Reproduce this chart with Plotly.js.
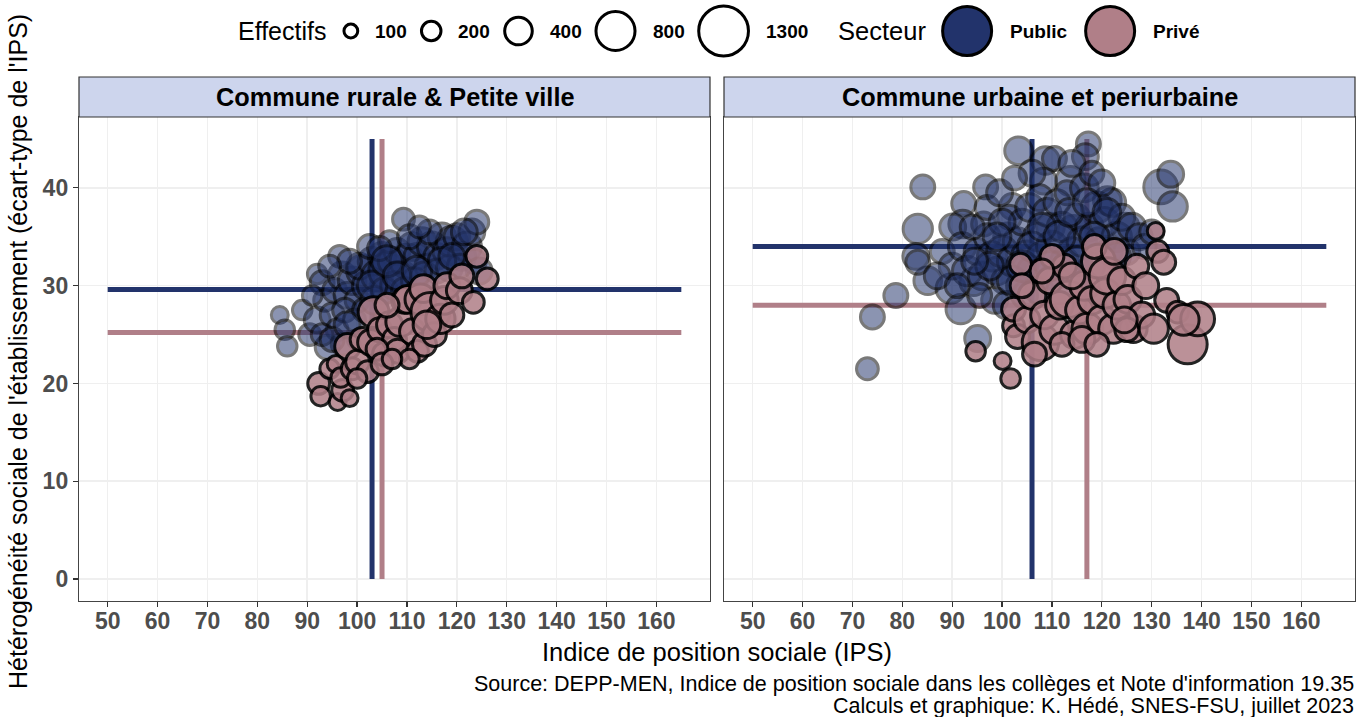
<!DOCTYPE html>
<html><head><meta charset="utf-8">
<script src="https://cdn.plot.ly/plotly-3.0.1.min.js"></script>
<style>html,body{margin:0;padding:0;background:#fff}</style>
</head><body><div id="chart" style="width:1359px;height:717px"></div>
<script>
// ---------------- DATA ----------------
const panels = ['Commune rurale & Petite ville', 'Commune urbaine et periurbaine'];
const xTicks = [50,60,70,80,90,100,110,120,130,140,150,160];
const yTicks = [0,10,20,30,40];
const sizeBreaks = [100,200,400,800,1300];
const sectorLabels = ['Public','Privé'];

// [IPS, écart-type IPS, effectif]
const leftPublic = [
[84.5,27.0,150],[85.5,25.5,200],[86,23.8,200],[89,27.5,200],[90.5,25.0,250],[92,31.2,200],[93,30.3,300],[92,26.5,350],[94,23.7,300],[93.5,28.5,250],
[95,27.0,300],[96,25.5,250],[95.5,29.5,300],[97,31.0,400],[98,29.0,350],[99,30.5,400],[100,28.5,300],[101,31.5,500],[102,30.0,450],[100.5,32.0,350],
[103,32.5,400],[104,31.0,500],[105,33.0,400],[106,31.5,700],[107,32.5,400],[108,33.5,350],[109,31.0,450],[110,32.5,600],[111,34.0,400],[112,33.0,350],
[113,34.5,400],[114,32.0,300],[115,34.0,450],[116,33.0,350],[117,35.0,400],[118,33.5,400],[119,34.5,500],[120,35.0,350],[121,33.0,400],[122,34.0,450],
[123,35.5,350],[124,36.5,300],[109.3,36.8,250],[123.5,32.5,300],[124.5,31.5,350],[96.5,33.0,250],[98.5,32.5,300],[97.5,27.5,300],[99.5,26.5,250],[101.5,27.5,300],
[103.5,28.5,400],[105.5,29.5,350],[107.5,30.0,400],[109.5,29.5,350],[111.5,30.5,350],[113.5,31.0,400],[116,31.5,300],[118.5,31.8,350],[120.5,32.0,300],[91,29.0,200],
[94.5,32.0,250],[102.5,34.0,300],[106.5,34.5,250],[110.5,35.0,300],[114.5,35.5,300],[104.5,33.8,300],[100,24.5,200],[97,24.0,250],[112.5,36.0,250],
[93,25.0,250],[95,24.5,300],[98,26.0,350],[103,30.0,450],[106,32.5,500],[108,31.0,400],[112,31.5,450],[117,32.5,400],[119,33.0,350],[121.5,35.5,350]
];
const leftPrivate = [
[92.3,20.0,250],[92.7,18.7,200],[94.5,21.5,200],[95.7,22.0,150],[96.1,18.1,150],[97.1,19.3,250],[96.7,20.6,200],[98.1,23.8,350],[99,21.5,250],[100.1,22.2,300],
[101,24.5,300],[102.1,21.2,250],[102.7,24.2,350],[103.3,27.3,500],[104.5,25.5,300],[105.5,23.0,300],[106.5,26.0,350],[107.5,24.5,300],[108.1,23.3,300],[108.7,26.3,450],
[109.5,28.5,350],[110.1,28.6,400],[111.1,25.3,350],[112.1,23.3,250],[112.7,28.6,500],[113.3,29.7,400],[113.5,24.0,300],[114.7,27.3,800],[115.5,25.0,300],[116.7,26.6,450],
[117.5,28.5,400],[118,30.0,350],[119,27.0,300],[120.5,29.5,350],[121,31.0,300],[123.3,28.3,250],[126.1,30.7,250],[124,33.0,250],[106,28.0,300],[104,23.5,250],
[110.5,22.5,200],[114,26.0,400],[100,20.5,200],[98.5,18.5,150],[105,22.0,250],[107,22.5,200]
];
const rightPublic = [
[73.0,21.5,250],[74.0,26.8,300],[78.7,29.0,300],[84.1,40.1,300],[83.1,35.8,450],[82.7,33.0,350],[85.1,30.5,400],[83.1,32.4,300],[89.7,29.7,450],[91.7,27.6,450],
[95.1,24.6,350],[92.3,38.4,300],[96.7,40.1,300],[103.3,43.8,400],[92.1,36.3,400],[90.1,36.0,350],[96.3,36.3,300],[102.1,38.1,350],[101.1,35.0,400],[94.3,30.4,400],
[117.3,44.5,300],[116.7,43.2,350],[108.7,42.8,400],[113.7,40.7,450],[108.3,40.7,350],[121.1,38.7,400],[131.8,40.1,600],[133.8,41.4,350],[134.2,38.1,450],[124.7,36.0,400],
[109.7,36.0,400],[114.3,35.6,500],[88,33.5,300],[90,32.0,350],[92,34.0,400],[93,31.5,450],[95,33.5,350],[96,31.0,400],[97,35.0,350],[98,33.0,450],
[99,31.5,400],[100,33.5,500],[100.5,30.5,350],[101.5,37.0,300],[102,32.5,450],[103,34.5,400],[103.5,30.0,350],[104,36.5,350],[105,33.0,500],[105.5,38.0,400],
[106,31.5,450],[107,35.0,400],[107.5,39.0,350],[108,33.0,450],[109,37.5,400],[110,34.0,500],[110.5,31.0,400],[111,38.5,350],[112,36.0,450],[112.5,32.5,400],
[113,39.5,300],[114,33.5,400],[115,37.0,350],[116,34.5,450],[116.5,40.0,400],[117.5,36.0,400],[118,32.0,350],[119,38.0,500],[119.5,34.5,400],[120.5,36.5,450],
[121.5,33.5,350],[122,38.5,400],[123,35.0,450],[124,37.0,350],[125,33.5,350],[126,36.0,400],[127.5,35.0,350],[128.5,34.0,300],[130,35.5,300],[98.5,28.5,350],
[101,28.0,400],[104.5,29.0,350],[107.5,29.5,400],[97,38.0,300],[94,36.0,300],[99.5,39.5,350],[106,41.5,350],[110.5,43.0,300],[114,42.5,350],[118,41.5,300],
[120,40.5,350],[102.5,41.0,300],[95.5,29.0,300],[87,31.0,350],[91,30.0,300],[111.5,29.5,350],[115.5,30.5,300],[100,36.5,350],
[102,30.5,450],[104,32.0,500],[106,34.0,450],[108,36.0,400],[109.5,32.0,450],[111.5,35.0,500],[113.5,37.5,400],[115,32.5,450],[117,38.5,400],[118.5,35.0,450],
[121,37.5,400],[123,33.0,400],[99,35.0,400],[97.5,32.0,400],[94.5,32.5,350]
];
const rightPrivate = [
[94.7,23.3,200],[100.1,22.3,150],[101.7,20.5,200],[102.3,25.9,250],[103.1,24.8,300],[102.3,27.6,300],[103.7,32.2,250],[105,26.5,350],[106,29.0,400],[107.7,24.2,700],
[108.5,27.0,400],[109.5,30.5,350],[110.5,25.5,450],[111.5,28.0,400],[112.5,32.0,300],[113.3,28.6,700],[114.5,25.0,400],[115.5,27.5,400],[116.5,30.0,450],[117.1,25.6,500],
[118,28.5,400],[119.3,32.5,600],[120,26.5,450],[120.7,29.2,450],[121.1,31.0,700],[122.3,25.6,450],[123,28.0,400],[124,30.5,400],[125.2,28.6,400],[126.3,25.6,400],
[127,32.0,300],[128,27.0,350],[128.8,30.0,350],[130.4,25.6,450],[130.8,35.6,150],[131.2,33.5,250],[132.4,32.4,300],[133,28.5,300],[135.2,27.3,250],[137.2,24.0,800],
[139.2,26.6,600],[136.4,26.5,500],[104,30.0,300],[110,33.0,300],[106.5,23.0,300],[112,24.0,300],[116,24.5,350],[119,24.0,300],[125,25.5,300],[114,31.0,350],
[118.5,34.0,300],[122.5,33.5,350],[108,31.5,300],[124.5,26.5,350]
];
// sector means per panel
const publicMeanIPS  = [103, 106];
const publicMeanHet  = [29.6, 34];
const privateMeanIPS = [105, 117];
const privateMeanHet = [25.2, 28];
const ipsSpan = [50, 165];
const hetSpan = [0, 45];

// ---------------- STYLE / LAYOUT ----------------
const W = 1359, H = 717;
const FONT = 'Liberation Sans, Arial, Helvetica, sans-serif';
const colPub = '#22336b', colPriv = '#b07f88';
const sizeOf = n => 1.38 * Math.sqrt(n);
const MLW = 3;
const box = {L:[79,710], R:[724,1355], top:117, bottom:601, stripTop:77};
const fx = p => p / W, fy = p => 1 - p / H;

const traces = [];
const panelData = [[leftPublic, leftPrivate],[rightPublic, rightPrivate]];
panelData.forEach((pd, i) => {
  const xa = i ? 'x2' : 'x', ya = i ? 'y2' : 'y';
  const seg = (x, y, c) => traces.push({type:'scatter', mode:'lines', x, y, xaxis:xa, yaxis:ya,
     line:{color:c, width:5}, hoverinfo:'skip', cliponaxis:true});
  seg(ipsSpan, [publicMeanHet[i], publicMeanHet[i]], colPub);
  seg([publicMeanIPS[i], publicMeanIPS[i]], hetSpan, colPub);
  seg(ipsSpan, [privateMeanHet[i], privateMeanHet[i]], colPriv);
  seg([privateMeanIPS[i], privateMeanIPS[i]], hetSpan, colPriv);
  const pts = (arr, c, op) => traces.push({type:'scatter', mode:'markers', xaxis:xa, yaxis:ya,
     x: arr.map(d => d[0]), y: arr.map(d => d[1]),
     marker:{size: arr.map(d => sizeOf(d[2])), color:c, opacity:op, line:{color:'#000', width:MLW}},
     cliponaxis:false, hoverinfo:'skip'});
  pts(pd[0], colPub, 0.52);
  pts(pd[1], colPriv, 0.86);
});

// legend drawn on a pixel-space overlay axis
const ctx = document.createElement('canvas').getContext('2d');
const tw = (t, s, b) => { ctx.font = (b ? 'bold ' : '') + s + 'px "Liberation Sans"'; return ctx.measureText(t).width; };
const annotations = [];
const LY = 31;
const legX = [], legS = [], legC = [];
let cur = 237;
const txt = (text, x, y, size, bold, anchor, extra) => annotations.push(Object.assign({
  text, x, y, xref:'x3', yref:'y3', xanchor:anchor || 'left', yanchor:'middle', showarrow:false, borderpad:0,
  font:{family:FONT, size, color:'#000', weight: bold ? 700 : 400}}, extra || {}));
txt('Effectifs', cur, LY, 25, false);
cur += tw('Effectifs', 25, false) + 17;
sizeBreaks.forEach(n => {
  const D = sizeOf(n) + MLW;
  legX.push(cur + D / 2); legS.push(sizeOf(n)); legC.push('#ffffff');
  cur += D + 15;
  txt(String(n), cur, LY, 19, true);
  cur += tw(String(n), 19, true) + 14;
});
cur += 16;
txt('Secteur', cur, LY, 25.5, false);
cur += tw('Secteur', 25.5, false) + 16;
const secCols = [colPub, colPriv];
sectorLabels.forEach((s, k) => {
  const size = 49, D = size + MLW;
  legX.push(cur + D / 2); legS.push(size); legC.push(secCols[k]);
  cur += D + 16;
  txt(s, cur, LY, 19, true);
  cur += tw(s, 19, true) + 18;
});
traces.push({type:'scatter', mode:'markers', xaxis:'x3', yaxis:'y3', x:legX, y:legX.map(() => LY),
  marker:{size:legS, color:legC, opacity:1, line:{color:'#000', width:MLW}}, cliponaxis:false, hoverinfo:'skip'});

// strips
const shapes = [];
[box.L, box.R].forEach((b, i) => {
  shapes.push({type:'rect', xref:'x3', yref:'y3', x0:b[0], x1:b[1], y0:box.stripTop, y1:box.top,
    fillcolor:'#cdd5ed', line:{color:'#333333', width:1.2}});
  txt(panels[i], (b[0] + b[1]) / 2, (box.stripTop + box.top) / 2, 25.3, true, 'center');
});
txt('Indice de position sociale (IPS)', (box.L[0] + box.R[1]) / 2, 652, 25.5, false, 'center');
txt("Hétérogénéité sociale de l'établissement (écart-type de l'IPS)", 18, 352, 25, false, 'center', {textangle:-90});
txt("Source: DEPP-MEN, Indice de position sociale dans les collèges et Note d'information 19.35", 1355, 684, 21.5, false, 'right');
txt('Calculs et graphique: K. Hédé, SNES-FSU, juillet 2023', 1355, 706, 21.5, false, 'right');

const tickFont = {family:FONT, size:23, color:'#4d4d4d', weight:700};
const xBase = {range:[44.25,170.75], tickvals:xTicks, ticktext:xTicks.map(String), ticks:'outside', ticklen:5, tickwidth:1.2,
  tickcolor:'#333', tickfont:tickFont, ticklabelstandoff:-6, showgrid:true, gridcolor:'#efefef', gridwidth:1.5, zeroline:false,
  showline:true, mirror:true, linecolor:'#444', linewidth:1.2, fixedrange:true};
const yBase = {range:[-2.25,47.25], tickvals:yTicks, ticktext:yTicks.map(String), ticks:'outside', ticklen:5, tickwidth:1.2,
  tickcolor:'#333', tickfont:tickFont, showgrid:true, gridcolor:'#efefef', gridwidth:1.5, zeroline:false,
  showline:true, mirror:true, linecolor:'#444', linewidth:1.2, domain:[fy(box.bottom), fy(box.top)], fixedrange:true};

const layout = {
  width:W, height:H, margin:{l:0,r:0,t:0,b:0}, autosize:false,
  paper_bgcolor:'#ffffff', plot_bgcolor:'rgba(0,0,0,0)', showlegend:false, hovermode:false,
  font:{family:FONT},
  xaxis: Object.assign({}, xBase, {domain:[fx(box.L[0]), fx(box.L[1])], anchor:'y'}),
  yaxis: Object.assign({}, yBase, {anchor:'x'}),
  xaxis2: Object.assign({}, xBase, {domain:[fx(box.R[0]), fx(box.R[1])], anchor:'y2'}),
  yaxis2: Object.assign({}, yBase, {anchor:'x2', showticklabels:false, ticks:''}),
  xaxis3: {domain:[0,1], range:[0,W], visible:false, anchor:'y3', fixedrange:true},
  yaxis3: {domain:[0,1], range:[H,0], visible:false, anchor:'x3', fixedrange:true},
  shapes, annotations
};
Plotly.newPlot('chart', traces, layout, {displayModeBar:false, staticPlot:true});
</script></body></html>
